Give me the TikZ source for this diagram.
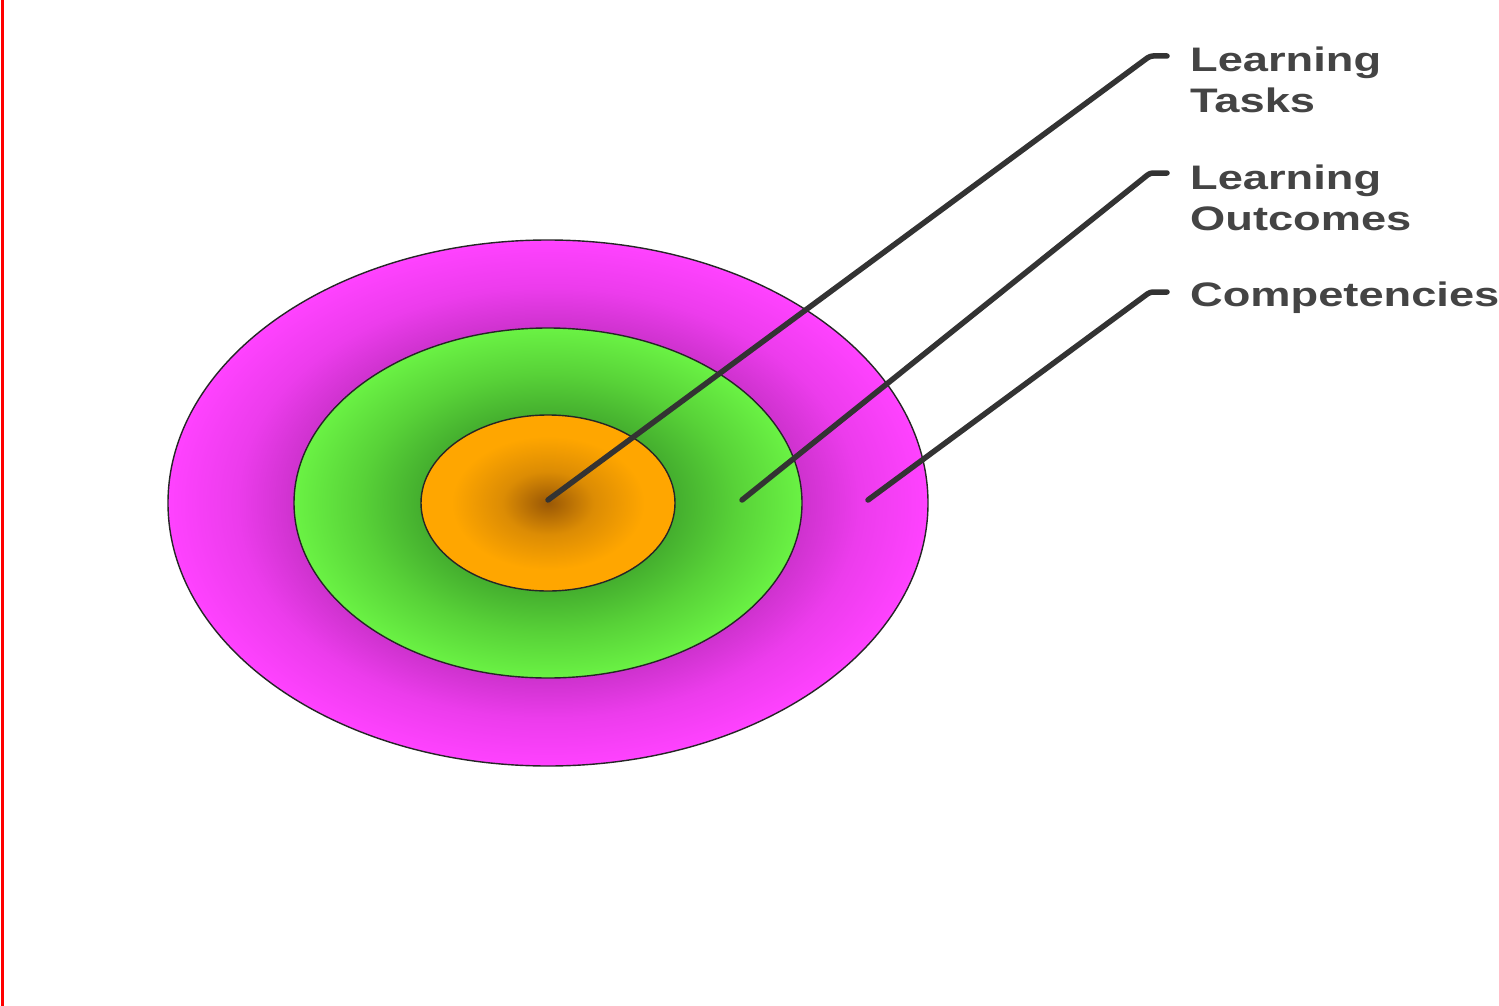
\documentclass[tikz,border=0pt]{standalone}
\usepackage{fontspec}
\setmainfont{Liberation Sans}
\definecolor{magdark}{HTML}{CE32CE}
\definecolor{magmid}{HTML}{EC3CEC}
\definecolor{magbright}{HTML}{FF42FF}
\definecolor{grdark}{HTML}{44AE2E}
\definecolor{grmid}{HTML}{58D238}
\definecolor{grbright}{HTML}{6AF244}
\definecolor{ordark}{HTML}{9A5806}
\definecolor{ormid}{HTML}{DC8C04}
\definecolor{orbright}{HTML}{FFA600}
\definecolor{txtgray}{HTML}{444444}
\definecolor{linegray}{HTML}{333333}
\pgfdeclareradialshading{magring}{\pgfpoint{0bp}{0bp}}{color(0bp)=(magdark); color(16.7bp)=(magdark); color(20.5bp)=(magmid); color(25bp)=(magbright); color(50bp)=(magbright)}
\pgfdeclareradialshading{grring}{\pgfpoint{0bp}{0bp}}{color(0bp)=(grdark); color(12.5bp)=(grdark); color(18.5bp)=(grmid); color(25bp)=(grbright); color(50bp)=(grbright)}
\pgfdeclareradialshading{orcore}{\pgfpoint{0bp}{0bp}}{color(0bp)=(ordark); color(9bp)=(ormid); color(19bp)=(orbright); color(50bp)=(orbright)}
\begin{document}
\begin{tikzpicture}[x=1pt,y=-1pt,
  ring/.style={draw=black!85,line width=1.4pt},
  leader/.style={draw=linegray,line width=5.5pt,rounded corners=3pt,line cap=round},
  lab/.style={inner sep=0pt,anchor=base west,text=txtgray,font=\fontsize{34}{41}\selectfont\bfseries}]
\useasboundingbox (0,0) rectangle (1499,1006);
\fill[white] (0,0) rectangle (1499,1006);
\draw[red,line width=2.5pt] (2.5,0) -- (2.5,1006);
% rings
\path[ring,shading=magring] (548,503) ellipse [x radius=380,y radius=263];
\path[ring,shading=grring] (548,503) ellipse [x radius=254,y radius=175];
\path[ring,shading=orcore] (548,503) ellipse [x radius=127,y radius=88];
% labels
\node[lab] (lt1) at (1190,72) {\scalebox{1.33}[1]{Learning}};
\node[lab] (lt2) at (1190,113) {\scalebox{1.33}[1]{Tasks}};
\node[lab] (lo1) at (1190,189) {\scalebox{1.33}[1]{Learning}};
\node[lab] (lo2) at (1190,230) {\scalebox{1.33}[1]{Outcomes}};
\node[lab] (lc1) at (1190,306) {\scalebox{1.33}[1]{Competencies}};
% leader coordinates
\coordinate (ta) at (548,500);
\coordinate (tb) at (1150,56);
\coordinate (tc) at (1167,56);
\coordinate (oa) at (742,500);
\coordinate (ob) at (1150,173);
\coordinate (oc) at (1167,173);
\coordinate (ca) at (868,500);
\coordinate (cb) at (1150,292);
\coordinate (cc) at (1167,292);
\draw[leader] (ta) -- (tb) -- (tc);
\draw[leader] (oa) -- (ob) -- (oc);
\draw[leader] (ca) -- (cb) -- (cc);
\end{tikzpicture}
\end{document}
